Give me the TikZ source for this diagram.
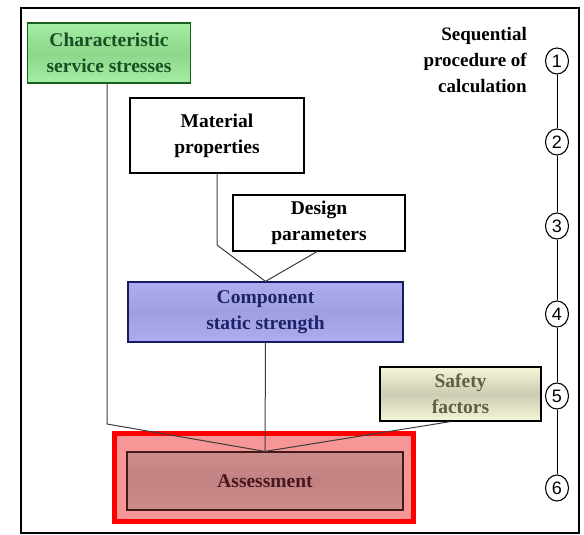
\documentclass[tikz,border=0pt]{standalone}
\usepackage{fontspec}
\setmainfont{Liberation Serif}
\newfontfamily\digitfont{Liberation Sans}
\usetikzlibrary{calc,shapes.geometric}
\definecolor{grfill}{RGB}{165,238,165}
\definecolor{grmid}{RGB}{140,215,140}
\definecolor{grline}{RGB}{25,95,30}
\definecolor{grtext}{RGB}{25,80,35}
\definecolor{blfill}{RGB}{172,172,240}
\definecolor{blmid}{RGB}{160,160,225}
\definecolor{blline}{RGB}{25,25,95}
\definecolor{bltext}{RGB}{30,35,105}
\definecolor{yefill}{RGB}{245,245,215}
\definecolor{yemid}{RGB}{205,205,180}
\definecolor{yetext}{RGB}{95,95,65}
\definecolor{rdfill}{RGB}{246,150,150}
\definecolor{rdinner}{RGB}{205,140,140}
\definecolor{rdmid}{RGB}{195,130,130}
\definecolor{rdline}{RGB}{70,25,25}
\definecolor{rdtext}{RGB}{70,25,30}
\definecolor{linkgray}{RGB}{60,60,60}
\tikzset{
  box/.style={draw=black, line width=1.2pt, align=center, inner sep=0pt,
    font=\fontsize{19.5}{26}\selectfont\bfseries},
  link/.style={draw=linkgray, line width=1pt},
  stepno/.style={ellipse, draw=black, line width=1.1pt, inner sep=0pt,
    minimum width=23pt, minimum height=26pt, font=\digitfont\fontsize{18}{18}\selectfont},
}
\begin{document}
\begin{tikzpicture}[x=1pt, y=-1pt]
\useasboundingbox (0,0) rectangle (584,535);
% outer frame
\draw[line width=2pt] (21,8) rectangle (579,533);

% boxes
\node[box, draw=grline, top color=grfill, bottom color=grfill, middle color=grmid,
  text=grtext, minimum width=163pt, minimum height=60pt] (stress) at (109,53)
  {Characteristic\\service stresses};
\node[box, fill=white, minimum width=174pt, minimum height=75pt] (material) at (217,135.5)
  {Material\\properties};
\node[box, fill=white, minimum width=172pt, minimum height=56pt] (design) at (319,223)
  {Design\\parameters};
\node[box, draw=blline, top color=blfill, bottom color=blfill, middle color=blmid,
  text=bltext, minimum width=275pt, minimum height=60pt] (strength) at (265.5,312)
  {Component\\static strength};
\node[box, top color=yefill, bottom color=yefill, middle color=yemid,
  text=yetext, minimum width=161pt, minimum height=54pt] (safety) at (460.5,394)
  {Safety\\factors};

% highlight frame around the assessment box
\node[draw=red, line width=5pt, fill=rdfill, minimum width=299pt, minimum height=88pt,
  inner sep=0pt] (highlight) at (264,477.5) {};
\node[box, draw=rdline, top color=rdinner, bottom color=rdinner, middle color=rdmid,
  text=rdtext, minimum width=276pt, minimum height=58pt] (assess) at (265,481)
  {Assessment};

% connectors
\coordinate (sbend) at (107,424);
\coordinate (mbend) at (217,245);
\draw[link] (stress.south -| sbend) -- (sbend) -- (assess.north);
\draw[link] (material.south) -- (mbend) -- (strength.north);
\draw[link] ($(design.south)+(-2,0)$) -- (strength.north);
\draw[link] (strength.south) -- (assess.north);
\draw[link] ($(safety.south)+(-10,0)$) -- (assess.north);

% sequence of calculation steps
\node[align=right, anchor=north east, inner sep=0pt,
  font=\fontsize{19}{26}\selectfont\bfseries] (seqtitle) at (527,27)
  {Sequential\\procedure of\\calculation};
\node[stepno] (n1) at (557,61) {1};
\node[stepno] (n2) at (557,142) {2};
\node[stepno] (n3) at (557,226) {3};
\node[stepno] (n4) at (557,314) {4};
\node[stepno] (n5) at (557,396) {5};
\node[stepno] (n6) at (557,488) {6};
\draw[line width=1pt] (n1) -- (n2) -- (n3) -- (n4) -- (n5) -- (n6);
\end{tikzpicture}
\end{document}
